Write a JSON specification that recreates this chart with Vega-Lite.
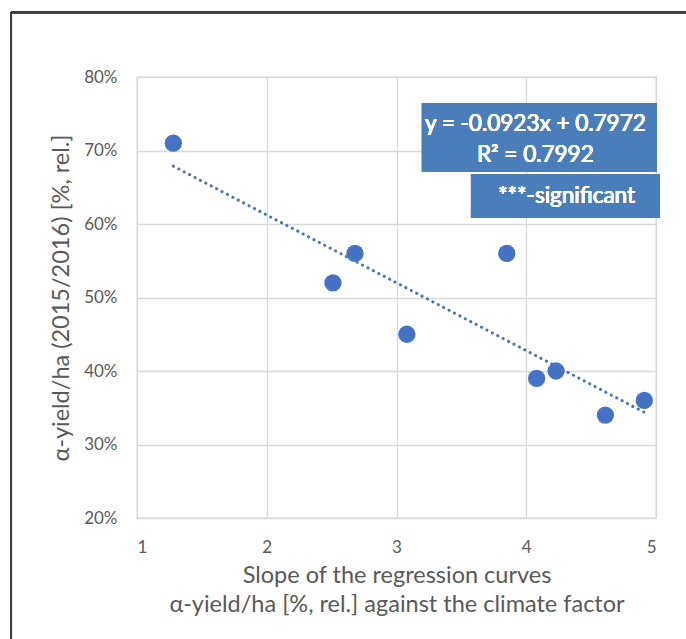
{
  "$schema": "https://vega.github.io/schema/vega-lite/v6.json",
  "autosize": {"type": "none"},
  "width": 519,
  "height": 441,
  "padding": {"left": 137, "top": 77, "right": 30, "bottom": 121},
  "background": "white",
  "config": {
    "font": "Lato",
    "view": {"stroke": "#d9d9d9", "strokeWidth": 1.3},
    "axis": {
      "gridColor": "#d9d9d9",
      "gridWidth": 1.3,
      "domain": false,
      "ticks": false,
      "labelColor": "#595959",
      "titleColor": "#595959",
      "labelFontSize": 17,
      "titleFontSize": 23.5,
      "titleFontWeight": "normal",
      "labelFont": "Lato",
      "titleFont": "Lato"
    }
  },
  "data": {
    "values": [
      {"slope": 1.28, "yield": 0.71},
      {"slope": 2.51, "yield": 0.52},
      {"slope": 2.68, "yield": 0.56},
      {"slope": 3.08, "yield": 0.45},
      {"slope": 3.85, "yield": 0.56},
      {"slope": 4.08, "yield": 0.39},
      {"slope": 4.23, "yield": 0.40},
      {"slope": 4.61, "yield": 0.34},
      {"slope": 4.91, "yield": 0.36}
    ]
  },
  "layer": [
    {
      "mark": {"type": "point", "filled": true, "size": 300, "opacity": 1, "color": "#4472c4"},
      "encoding": {
        "x": {
          "field": "slope", "type": "quantitative",
          "scale": {"domain": [1, 5], "nice": false, "zero": false},
          "axis": {
            "values": [1, 2, 3, 4, 5], "format": "d", "labelPadding": 21, "titlePadding": 8,
            "title": ["Slope of the regression curves", "α-yield/ha [%, rel.] against the climate factor"],
            "titleLineHeight": 29
          }
        },
        "y": {
          "field": "yield", "type": "quantitative",
          "scale": {"domain": [0.2, 0.8], "nice": false, "zero": false},
          "axis": {
            "values": [0.2, 0.3, 0.4, 0.5, 0.6, 0.7, 0.8], "format": ".0%",
            "labelPadding": 20, "titlePadding": 10,
            "title": "α-yield/ha (2015/2016) [%, rel.]"
          }
        }
      }
    },
    {
      "transform": [{"regression": "yield", "on": "slope", "extent": [1.28, 4.91]}],
      "mark": {"type": "line", "color": "#4472c4", "strokeWidth": 3, "strokeDash": [0.1, 6], "strokeCap": "round"},
      "encoding": {
        "x": {"field": "slope", "type": "quantitative"},
        "y": {"field": "yield", "type": "quantitative"}
      }
    },
    {
      "mark": {"type": "rect", "color": "#4a7ebb"},
      "encoding": {
        "x": {"datum": 3.196}, "x2": {"datum": 5.007},
        "y": {"datum": 0.7646}, "y2": {"datum": 0.6707}
      }
    },
    {
      "mark": {"type": "rect", "color": "#4a7ebb"},
      "encoding": {
        "x": {"datum": 3.574}, "x2": {"datum": 5.03},
        "y": {"datum": 0.668}, "y2": {"datum": 0.608}
      }
    },
    {
      "mark": {"type": "text", "color": "white", "fontSize": 22.5, "fontWeight": 400, "font": "Lato", "align": "center", "baseline": "middle"},
      "encoding": {
        "x": {"datum": 4.07}, "y": {"datum": 0.736},
        "text": {"value": "y = -0.0923x + 0.7972"}
      }
    },
    {
      "mark": {"type": "text", "color": "white", "fontSize": 22.5, "fontWeight": 400, "font": "Lato", "align": "center", "baseline": "middle"},
      "encoding": {
        "x": {"datum": 4.07}, "y": {"datum": 0.694},
        "text": {"value": "R² = 0.7992"}
      }
    },
    {
      "mark": {"type": "text", "color": "white", "fontSize": 22.5, "fontWeight": 400, "font": "Lato", "align": "center", "baseline": "middle"},
      "encoding": {
        "x": {"datum": 4.31}, "y": {"datum": 0.638},
        "text": {"value": "***-significant"}
      }
    },
    {
      "mark": {"type": "rule", "color": "#404040", "strokeWidth": 2},
      "encoding": {
        "x": {"datum": 0.029}, "x2": {"datum": 5.3},
        "y": {"datum": 0.888}
      }
    },
    {
      "mark": {"type": "rule", "color": "#404040", "strokeWidth": 2},
      "encoding": {
        "x": {"datum": 0.029},
        "y": {"datum": 0.888}, "y2": {"datum": 0.03}
      }
    }
  ]
}
